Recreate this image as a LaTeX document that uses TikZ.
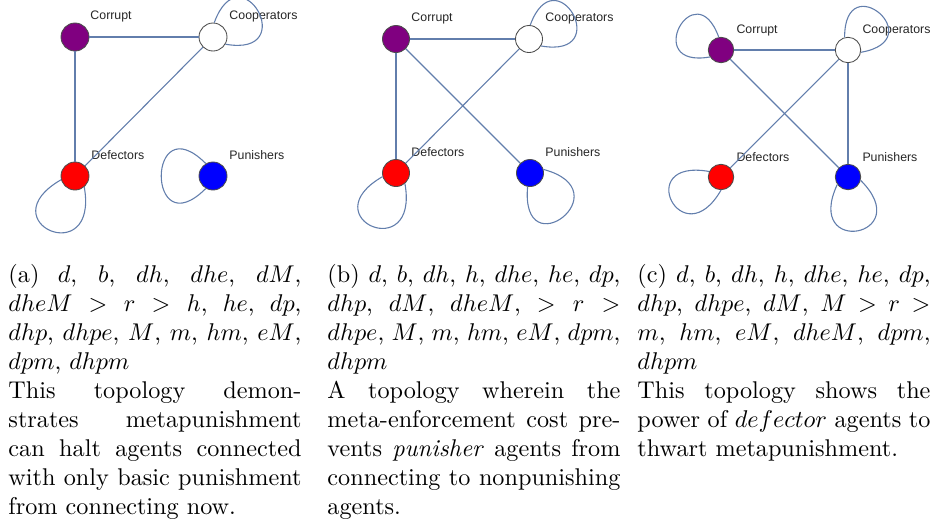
\documentclass[tikz,border=0pt]{standalone}
\usepackage{fontspec}
\newfontfamily\labelfont{Liberation Sans}
\definecolor{edgecol}{RGB}{98,126,172}
\definecolor{corruptcol}{RGB}{128,0,128}
\definecolor{defectcol}{RGB}{255,0,0}
\definecolor{punishcol}{RGB}{0,0,255}
\begin{document}
\begin{tikzpicture}[x=0.413pt,y=0.413pt,
  agent/.style={circle,draw=black!70,line width=0.35pt,inner sep=0pt},
  link/.style={draw=edgecol,line width=0.45pt},
  lbl/.style={anchor=west,inner sep=0pt,font=\labelfont\fontsize{5.1}{6}\selectfont,text=black!85},
  capt/.style={anchor=base west,inner sep=0pt}]
\useasboundingbox (0,0) rectangle (933,-529);

% ---------- panel (a)
\node[agent,fill=corruptcol,minimum size=11.56pt] (aC) at (75,-37) {};
\node[agent,fill=white,minimum size=11.56pt] (aK) at (213,-37) {};
\node[agent,fill=defectcol,minimum size=11.56pt] (aD) at (75,-176) {};
\node[agent,fill=punishcol,minimum size=11.56pt] (aP) at (213,-176) {};
\node[lbl] (aCl) at (90,-16) {Corrupt};
\node[lbl] (aKl) at (229,-16) {Cooperators};
\node[lbl] (aDl) at (91,-155) {Defectors};
\node[lbl] (aPl) at (229,-155) {Punishers};
\draw[link] (aC) -- (aK);
\draw[link] (aC) -- (aD);
\draw[link] (aK) -- (aD);
\draw[link] (aK.85) .. controls +(70:77) and +(-10:77) .. (aK.-30);
\draw[link] (aD.195) .. controls +(210:85) and +(-80:85) .. (aD.-50);
\draw[link] (aP.120) .. controls +(135:84) and +(225:84) .. (aP.240);

% ---------- panel (b)
\node[agent,fill=corruptcol,minimum size=11.15pt] (bC) at (396,-39) {};
\node[agent,fill=white,minimum size=11.15pt] (bK) at (529,-39) {};
\node[agent,fill=defectcol,minimum size=11.15pt] (bD) at (396,-173) {};
\node[agent,fill=punishcol,minimum size=11.15pt] (bP) at (530,-173) {};
\node[lbl] (bCl) at (411,-18) {Corrupt};
\node[lbl] (bKl) at (545,-18) {Cooperators};
\node[lbl] (bDl) at (411,-152) {Defectors};
\node[lbl] (bPl) at (545,-152) {Punishers};
\draw[link] (bC) -- (bK);
\draw[link] (bC) -- (bD);
\draw[link] (bC) -- (bP);
\draw[link] (bK) -- (bD);
\draw[link] (bK.85) .. controls +(70:75) and +(-10:75) .. (bK.-30);
\draw[link] (bD.195) .. controls +(210:83) and +(-80:83) .. (bD.-50);
\draw[link] (bP.15) .. controls +(-15:83) and +(-95:83) .. (bP.-100);

% ---------- panel (c)
\node[agent,fill=corruptcol,minimum size=10.5pt] (cC) at (721,-50) {};
\node[agent,fill=white,minimum size=10.5pt] (cK) at (848,-50) {};
\node[agent,fill=defectcol,minimum size=10.5pt] (cD) at (721,-177) {};
\node[agent,fill=punishcol,minimum size=10.5pt] (cP) at (848,-177) {};
\node[lbl] (cCl) at (736,-30) {Corrupt};
\node[lbl] (cKl) at (862,-30) {Cooperators};
\node[lbl] (cDl) at (736,-157) {Defectors};
\node[lbl] (cPl) at (862,-157) {Punishers};
\draw[link] (cC) -- (cK);
\draw[link] (cC) -- (cP);
\draw[link] (cK) -- (cD);
\draw[link] (cK) -- (cP);
\draw[link] (cC.100) .. controls +(110:70) and +(190:70) .. (cC.212);
\draw[link] (cK.105) .. controls +(90:72) and +(10:72) .. (cK.-10);
\draw[link] (cD.155) .. controls +(170:78) and +(240:78) .. (cD.270);
\draw[link] (cP.215) .. controls +(245:80) and +(-45:80) .. (cP.345);

% ---------- captions
\node[capt] (capA) at (8,-282) {\parbox[t]{121pt}{(a) $d$, $b$, $dh$, $dhe$, $dM$,\linebreak
 $dheM > r > h$, $he$, $dp$,\linebreak
 $dhp$, $dhpe$, $M$, $m$, $hm$, $eM$,\linebreak
 $dpm$, $dhpm$\par
 This topology demon-\linebreak
 strates metapunishment\linebreak
 can halt agents connected\linebreak
 with only basic punishment\linebreak
 from connecting now.}};
\node[capt] (capB) at (327,-282) {\parbox[t]{121pt}{(b) $d$, $b$, $dh$, $h$, $dhe$, $he$, $dp$,\linebreak
 $dhp$, $dM$, $dheM$, $> r >$\linebreak
 $dhpe$, $M$, $m$, $hm$, $eM$, $dpm$,\linebreak
 $dhpm$\par
 A topology wherein the\linebreak
 meta-enforcement cost pre-\linebreak
 vents \emph{punisher} agents from\linebreak
 connecting to nonpunishing\linebreak
 agents.}};
\node[capt] (capC) at (637,-282) {\parbox[t]{121pt}{(c) $d$, $b$, $dh$, $h$, $dhe$, $he$, $dp$,\linebreak
 $dhp$, $dhpe$, $dM$, $M > r >$\linebreak
 $m$, $hm$, $eM$, $dheM$, $dpm$,\linebreak
 $dhpm$\par
 This topology shows the\linebreak
 power of $defector$ agents to\linebreak
 thwart metapunishment.}};
\end{tikzpicture}
\end{document}
